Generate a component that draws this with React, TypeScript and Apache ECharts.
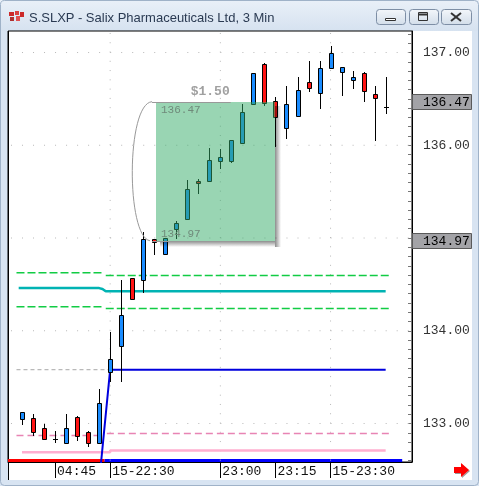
import React, { useEffect, useRef } from 'react';
import * as echarts from 'echarts';

// ---- data ----
const times = ['04:36','04:39','04:42','04:45','04:48','04:51','04:54','04:57',
  '22:30','22:33','22:36','22:39','22:42','22:45','22:48','22:51','22:54','22:57',
  '23:00','23:03','23:06','23:09','23:12','23:15','23:18','23:21','23:24','23:27',
  '23:30','23:33','23:36','23:39','23:42','23:45'];
const opens = [133.05,133.06,132.95,132.83,132.79,133.07,132.91,132.79,
  133.56,133.84,134.57,134.55,134.99,134.83,135.10,135.21,135.62,135.62,
  135.83,135.83,136.02,136.45,136.88,136.48,136.19,136.32,136.68,136.56,
  136.83,136.79,136.70,136.78,136.55,136.41];
const closes = [133.12,132.91,132.83,132.83,132.95,132.87,132.79,133.22,
  133.70,134.17,134.34,134.99,134.96,135.00,135.16,135.53,135.59,135.84,
  135.87,136.06,136.36,136.78,136.46,136.30,136.45,136.60,136.62,136.83,
  136.99,136.84,136.74,136.58,136.51,136.41];
const lows = [133.00,132.88,132.83,132.80,132.79,132.82,132.76,132.79,
  133.46,133.46,134.34,134.42,134.83,134.83,135.00,135.21,135.49,135.62,
  135.76,135.82,136.02,136.45,136.43,135.99,136.08,136.32,136.58,136.40,
  136.83,136.54,136.62,136.48,136.06,136.35];
const highs = [133.12,133.10,133.00,132.92,133.10,133.08,132.92,133.37,
  133.99,134.55,134.57,135.07,134.99,135.00,135.18,135.63,135.64,135.97,
  135.96,136.06,136.45,136.78,136.89,136.52,136.64,136.74,136.91,136.91,
  137.07,136.84,136.80,136.79,136.64,136.74];

const tickIdx = [3, 8, 18, 23, 28];
const tickLabels = ['04:45', '15-22:30', '23:00', '23:15', '15-23:30'];
const gridTimeIdx = [8, 18, 28];
const gridPrices = [133, 134, 135, 136, 137];
const priceLabels = [133, 134, 136, 137];

const sessionSplit = 7.5;
const sessionEnd = 34.5;

const vwapLine = [[7, 132.37], [8, 133.58], [33, 133.58]];
const prevVwapLine = [[-0.5, 133.58], [7.9, 133.58]];
const tealLine = [[-0.3, 134.46], [7.0, 134.46], [7.3, 134.45], [7.6, 134.425], [33, 134.425]];
const upperBandPrev = [[-0.5, 134.625], [7.4, 134.625]];
const upperBandCur = [[7.6, 134.597], [33.4, 134.597]];
const lowerBandPrev = [[-0.5, 134.26], [7.4, 134.26]];
const lowerBandCur = [[7.6, 134.24], [33.4, 134.24]];
const pinkDashPrev = [[-0.5, 132.87], [7.2, 132.87]];
const pinkDashCur = [[7.7, 132.892], [33.4, 132.892]];
const pinkSolid = [[0, 132.69], [8, 132.69], [8, 132.709], [33, 132.709]];

const measureTop = 136.47;
const measureBottom = 134.97;
const measureRange = [12.16, 22.96];
const measureLineRange = [11.8, 18.94];
const measureText = '$1.50';
const valueBoxes = [136.47, 134.97];

const title = 'S.SLXP - Salix Pharmaceuticals Ltd, 3 Min';

// ---- layout / style ----
const X_MIN = -1.27, X_MAX = 35.39, Y_MIN = 132.585, Y_MAX = 137.232;
const BLUE = '#1a8cff';
const RED = '#ff1414';
const MONO = '"Liberation Mono", "DejaVu Sans Mono", monospace';
const SLOT_PX = 404 / (X_MAX - X_MIN);
const TENTH_PX = 431 / (Y_MAX - Y_MIN) / 10;

function minorTicks(): number[] {
  const out: number[] = [];
  for (let k = Math.ceil(Y_MIN * 10); k <= Math.floor(Y_MAX * 10); k++) out.push(k / 10);
  return out;
}

function lineSeries(data: number[][], color: string, width: number, type: any, z = 3) {
  return {
    type: 'line', data, symbol: 'none', showSymbol: false, silent: true, z,
    lineStyle: { color, width, type }, clip: true, animation: false,
  };
}

function buildOption(): any {
  const candleData = times.map((_, i) => [i, opens[i], closes[i], lows[i], highs[i]]);
  const dotRows = gridPrices.map((p) => lineSeries([[-1, p], [X_MAX, p]], '#b8b8b8', 1, [1, SLOT_PX - 1], 1));
  const dotCols = gridTimeIdx.map((i) => lineSeries([[i, 132.6], [i, Y_MAX]], '#b8b8b8', 1, [1, TENTH_PX - 1], 1));
  return {
    animation: false,
    grid: { left: 8, top: 31, width: 404, height: 431, show: true, borderColor: '#000', borderWidth: 1, backgroundColor: 'transparent' },
    xAxis: {
      type: 'value', min: X_MIN, max: X_MAX,
      axisLine: { show: true, onZero: false, lineStyle: { color: '#000', width: 1 } },
      axisTick: { show: true, customValues: tickIdx, length: 16, inside: false, lineStyle: { color: '#000', width: 1 } },
      axisLabel: {
        show: true, customValues: tickIdx, margin: 3, align: 'left', verticalAlign: 'top', padding: [0, 0, 0, 2],
        color: '#111', fontFamily: MONO, fontSize: 13,
        formatter: (v: number) => { const k = tickIdx.indexOf(Math.round(v)); return k >= 0 ? tickLabels[k] : ''; },
      },
      splitLine: { show: false },
    },
    yAxis: {
      type: 'value', position: 'right', min: Y_MIN, max: Y_MAX, scale: true,
      axisLine: { show: true, onZero: false, lineStyle: { color: '#000', width: 1 } },
      axisTick: { show: true, customValues: minorTicks(), inside: true, length: 4, lineStyle: { color: '#777', width: 1 } },
      axisLabel: {
        show: true, customValues: priceLabels, margin: 11, align: 'left', color: '#333',
        fontFamily: MONO, fontSize: 13, formatter: (v: number) => v.toFixed(2),
      },
      splitLine: { show: false },
    },
    series: [
      ...dotRows,
      ...dotCols,
      {
        ...lineSeries(prevVwapLine, '#a8a8a8', 1, [4, 3], 2),
        markArea: {
          silent: true, label: { show: false },
          data: [
            [{ coord: [X_MIN, Y_MIN + 0.032], itemStyle: { color: '#ff0000' } }, { coord: [sessionSplit, Y_MIN] }],
            [{ coord: [sessionSplit, Y_MIN + 0.032], itemStyle: { color: '#0000ff' } }, { coord: [sessionEnd, Y_MIN] }],
          ],
        },
      },
      lineSeries(pinkSolid, '#ffaed0', 2.5, 'solid'),
      lineSeries(pinkDashPrev, '#e884b4', 1.5, [7, 4]),
      lineSeries(pinkDashCur, '#e884b4', 1.5, [7, 4]),
      lineSeries(upperBandPrev, '#11cc44', 1.5, [8, 3]),
      lineSeries(upperBandCur, '#11cc44', 1.5, [8, 3]),
      lineSeries(lowerBandPrev, '#11cc44', 1.5, [8, 3]),
      lineSeries(lowerBandCur, '#11cc44', 1.5, [8, 3]),
      lineSeries(tealLine, '#00b3b3', 2.5, 'solid'),
      lineSeries(vwapLine, '#0000dd', 2, 'solid'),
      {
        type: 'custom', z: 5, silent: true, data: candleData, clip: true,
        encode: { x: 0, y: [1, 2, 3, 4] },
        renderItem: (params: any, api: any) => {
          const i = api.value(0), o = api.value(1), c = api.value(2), l = api.value(3), h = api.value(4);
          const cx = api.coord([i, o])[0];
          const yo = api.coord([i, o])[1], yc = api.coord([i, c])[1];
          const yl = api.coord([i, l])[1], yh = api.coord([i, h])[1];
          const a = Math.round(cx) - 2;
          const top = Math.round(Math.min(yo, yc)), bot = Math.round(Math.max(yo, yc));
          const children: any[] = [
            { type: 'line', shape: { x1: a + 2.5, y1: Math.round(yh), x2: a + 2.5, y2: Math.round(yl) + 1 }, style: { stroke: '#000', lineWidth: 1 } },
          ];
          if (Math.abs(c - o) < 1e-9) {
            children.push({ type: 'line', shape: { x1: a, y1: top + 0.5, x2: a + 5, y2: top + 0.5 }, style: { stroke: '#000', lineWidth: 1 } });
          } else {
            children.push({ type: 'rect', shape: { x: a + 0.5, y: top + 0.5, width: 4, height: Math.max(bot - top, 2) }, style: { fill: c > o ? BLUE : RED, stroke: '#000', lineWidth: 1 } });
          }
          return { type: 'group', children };
        },
      },
    ],
  };
}

function chromeGraphics(): any[] {
  const Z = -100;
  const btn = (x: number, w: number, icon: any[]) => ({
    type: 'group', z: Z, children: [
      { type: 'rect', z: Z, shape: { x: x + 0.5, y: 9.5, width: w, height: 15, r: 3 },
        style: { fill: new echarts.graphic.LinearGradient(0, 0, 0, 1, [{ offset: 0, color: '#f3f6fa' }, { offset: 1, color: '#d3deea' }]), stroke: '#7d8ea5', lineWidth: 1 } },
      ...icon,
    ],
  });
  return [
    { type: 'rect', z: Z, shape: { x: 0, y: 0, width: 479, height: 486 }, style: { fill: '#d8e4f2' } },
    { type: 'rect', z: Z, shape: { x: 0, y: 0, width: 479, height: 31 },
      style: { fill: new echarts.graphic.LinearGradient(0, 0, 0, 1, [{ offset: 0, color: '#e9f0f8' }, { offset: 1, color: '#d6e2f0' }]) } },
    { type: 'rect', z: Z, shape: { x: 0.5, y: 0.5, width: 478, height: 485, r: 4 }, style: { fill: 'none', stroke: '#9fb2c8', lineWidth: 1 } },
    // icon
    { type: 'rect', z: Z, shape: { x: 9, y: 12, width: 5, height: 4 }, style: { fill: '#cc2a2a' } },
    { type: 'rect', z: Z, shape: { x: 15, y: 11, width: 4, height: 4 }, style: { fill: '#d94040' } },
    { type: 'rect', z: Z, shape: { x: 20, y: 12, width: 4, height: 5 }, style: { fill: '#cc2a2a' } },
    { type: 'rect', z: Z, shape: { x: 10, y: 17, width: 4, height: 4 }, style: { fill: '#b03030' } },
    { type: 'rect', z: Z, shape: { x: 16, y: 16, width: 4, height: 5 }, style: { fill: '#e05050' } },
    { type: 'text', z: Z, style: { x: 29, y: 17, text: title, fill: '#2a3a52', font: '13px "Liberation Sans", Arial, sans-serif', verticalAlign: 'middle' } },
    btn(376, 29, [{ type: 'rect', z: Z, shape: { x: 385.5, y: 18.5, width: 10, height: 2 }, style: { fill: '#fff', stroke: '#333', lineWidth: 1 } }]),
    btn(409, 29, [{ type: 'rect', z: Z, shape: { x: 418.5, y: 12.5, width: 9, height: 8 }, style: { fill: 'none', stroke: '#333', lineWidth: 1 } },
      { type: 'line', z: Z, shape: { x1: 419, y1: 14.5, x2: 427, y2: 14.5 }, style: { stroke: '#333', lineWidth: 2 } }]),
    btn(441, 30, [{ type: 'line', z: Z, shape: { x1: 451, y1: 13, x2: 461, y2: 21 }, style: { stroke: '#333', lineWidth: 2 } },
      { type: 'line', z: Z, shape: { x1: 461, y1: 13, x2: 451, y2: 21 }, style: { stroke: '#333', lineWidth: 2 } }]),
    // panel
    { type: 'rect', z: Z, shape: { x: 8, y: 31, width: 464, height: 449 }, style: { fill: '#ffffff' } },
    { type: 'line', z: Z, shape: { x1: 8.5, y1: 31, x2: 8.5, y2: 480 }, style: { stroke: '#000', lineWidth: 1 } },
  ];
}

export default function App() {
  const ref = useRef<HTMLDivElement>(null);
  useEffect(() => {
    const el = ref.current!;
    const chart = echarts.init(el, null, { renderer: 'svg' });
    chart.setOption(buildOption());
    const px = (x: number, y: number) => chart.convertToPixel({ gridIndex: 0 }, [x, y]) as number[];
    const Z = 100;
    const [bx0r, by0r] = px(measureRange[0], measureTop);
    const [bx1r, by1r] = px(measureRange[1], measureBottom);
    const bx0 = Math.round(bx0r), by0 = Math.round(by0r), bx1 = Math.round(bx1r), by1 = Math.round(by1r);
    const [lx0, ly0] = px(measureLineRange[0], measureTop);
    const [lx1, ly1] = px(measureLineRange[1], measureBottom);
    const SH = 6;
    const overlay: any[] = [
      { type: 'rect', z: Z, shape: { x: bx0, y: by0, width: bx1 - bx0, height: by1 - by0 },
        style: { fill: 'rgba(52,172,104,0.5)' } },
      { type: 'rect', z: Z, shape: { x: bx1, y: by0 + 4, width: SH, height: by1 - by0 - 4 + SH },
        style: { fill: new echarts.graphic.LinearGradient(0, 0, 1, 0, [{ offset: 0, color: 'rgba(0,0,0,0.45)' }, { offset: 1, color: 'rgba(0,0,0,0)' }]) } },
      { type: 'rect', z: Z, shape: { x: bx0 + 4, y: by1, width: bx1 - bx0 - 4, height: SH },
        style: { fill: new echarts.graphic.LinearGradient(0, 0, 0, 1, [{ offset: 0, color: 'rgba(0,0,0,0.45)' }, { offset: 1, color: 'rgba(0,0,0,0)' }]) } },
      { type: 'line', z: Z, shape: { x1: lx0, y1: Math.round(ly0) + 0.5, x2: lx1, y2: Math.round(ly0) + 0.5 }, style: { stroke: '#999', lineWidth: 1 } },
      { type: 'line', z: Z, shape: { x1: lx0, y1: Math.round(ly1) + 0.5, x2: lx1, y2: Math.round(ly1) + 0.5 }, style: { stroke: '#999', lineWidth: 1 } },
      { type: 'bezierCurve', z: Z, shape: { x1: lx0, y1: ly0, cpx1: lx0 - 26, cpy1: ly0 + 2, cpx2: lx0 - 26, cpy2: ly1 - 4, x2: lx0 - 2, y2: ly1 }, style: { stroke: '#999', lineWidth: 1, fill: 'none' } },
      { type: 'text', z: Z, style: { x: lx1 - 1, y: ly0 - 4, text: measureText, fill: '#a0a0a0', font: 'bold 13px ' + MONO, align: 'right', verticalAlign: 'bottom' } },
      { type: 'text', z: Z, style: { x: bx0 + 5, y: by0 + 2, text: measureTop.toFixed(2), fill: '#6f8a7a', font: '11px ' + MONO, align: 'left', verticalAlign: 'top' } },
      { type: 'text', z: Z, style: { x: bx0 + 5, y: by1 - 2, text: measureBottom.toFixed(2), fill: '#6f8a7a', font: '11px ' + MONO, align: 'left', verticalAlign: 'bottom' } },
      // red arrow
      { type: 'polygon', z: Z, shape: { points: [[454, 467], [461, 467], [461, 463], [469, 470], [461, 477], [461, 473], [454, 473]] },
        style: { fill: '#ff0000', shadowBlur: 1, shadowOffsetX: 1, shadowOffsetY: 1, shadowColor: 'rgba(0,0,0,0.4)' } },
    ];
    valueBoxes.forEach((v) => {
      const yc = Math.round(px(X_MAX, v)[1]);
      overlay.push({ type: 'rect', z: Z, shape: { x: 412.5, y: yc - 7.5, width: 59, height: 15 }, style: { fill: '#a3a3a7', stroke: '#5a5a5a', lineWidth: 1 } });
      overlay.push({ type: 'text', z: Z + 1, style: { x: 423, y: yc + 0.5, text: v.toFixed(2), fill: '#000', font: '13px ' + MONO, align: 'left', verticalAlign: 'middle' } });
    });
    chart.setOption({ graphic: { elements: [...chromeGraphics(), ...overlay] } });
    return () => chart.dispose();
  }, []);
  return <div ref={ref} style={{ position: 'fixed', left: 0, top: 0, width: 479, height: 486 }} />;
}
